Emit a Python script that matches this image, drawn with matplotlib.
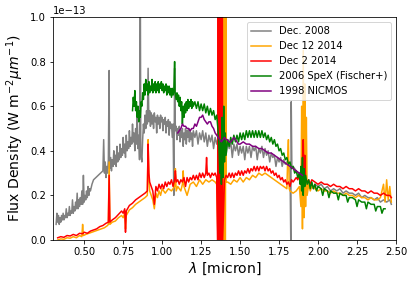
import numpy as np
import matplotlib
matplotlib.use("Agg")
import matplotlib.pyplot as plt

# flux values in units of 1e-13 W m^-2 um^-1

# Dec. 2008 (grey)
wl_2008 = [0.320, 0.325, 0.330, 0.335, 0.340, 0.345, 0.350, 0.355, 0.360, 0.365, 0.370, 0.375, 0.380, 0.385, 0.390, 0.395,
           0.400, 0.405, 0.410, 0.415, 0.420, 0.425, 0.430, 0.435, 0.440, 0.445, 0.450, 0.455, 0.460, 0.465, 0.470, 0.475,
           0.480, 0.485, 0.490, 0.495, 0.500, 0.505, 0.510, 0.515, 0.520, 0.525, 0.530, 0.535, 0.540, 0.550, 0.560,
           0.620, 0.625, 0.630, 0.635, 0.640, 0.645, 0.650, 0.655, 0.660, 0.663, 0.670, 0.675, 0.680, 0.685, 0.690, 0.695,
           0.700, 0.705, 0.710, 0.715, 0.720, 0.725, 0.730, 0.735, 0.740, 0.745, 0.750, 0.755, 0.760, 0.765, 0.770, 0.775,
           0.780, 0.785, 0.790, 0.795, 0.800, 0.805, 0.810, 0.815, 0.820, 0.825, 0.830, 0.835, 0.840, 0.845, 0.850, 0.855,
           0.860, 0.863, 0.870, 0.875, 0.880, 0.885, 0.890, 0.895, 0.900, 0.905, 0.910, 0.915, 0.920, 0.925, 0.930, 0.935,
           0.940, 0.945, 0.950, 0.955, 0.960, 0.965, 0.970, 0.975, 0.980, 0.985, 0.990, 0.995, 1.000, 1.005, 1.010, 1.015,
           1.020, 1.025, 1.030, 1.035, 1.040, 1.045, 1.050, 1.055, 1.060, 1.065, 1.070, 1.075, 1.080, 1.085, 1.090, 1.095,
           1.100, 1.105, 1.110, 1.115, 1.120, 1.125, 1.130, 1.135, 1.140, 1.145, 1.150, 1.155, 1.160, 1.165, 1.170, 1.175,
           1.180, 1.185, 1.190, 1.195, 1.200, 1.21, 1.22, 1.23, 1.24, 1.25, 1.26, 1.27, 1.28, 1.29, 1.30, 1.31,
           1.32, 1.33, 1.34, 1.35, 1.36, 1.37, 1.38, 1.39, 1.40, 1.41, 1.42, 1.43, 1.44, 1.45, 1.46, 1.47,
           1.48, 1.49, 1.50, 1.51, 1.52, 1.53, 1.54, 1.55, 1.56, 1.57, 1.58, 1.59, 1.60, 1.61, 1.62, 1.63,
           1.64, 1.65, 1.66, 1.67, 1.68, 1.69, 1.70, 1.71, 1.72, 1.73, 1.74, 1.75, 1.76, 1.77, 1.78, 1.79,
           1.80, 1.81, 1.82, 1.825, 1.828, 1.832, 1.84, 1.85, 1.86, 1.87, 1.88, 1.89, 1.90, 1.91, 1.92, 1.93,
           1.94, 1.95, 1.96, 1.97, 1.98, 2.00, 2.02, 2.04, 2.06, 2.08, 2.10, 2.12, 2.14, 2.16, 2.18, 2.20,
           2.22, 2.24, 2.26, 2.28, 2.30, 2.32, 2.34, 2.36, 2.38, 2.40, 2.42, 2.44, 2.46, 2.47]
fx_2008 = [0.07, 0.12, 0.08, 0.11, 0.07, 0.10, 0.08, 0.11, 0.09, 0.12, 0.09, 0.11, 0.10, 0.14, 0.10, 0.12,
           0.11, 0.15, 0.11, 0.13, 0.12, 0.18, 0.12, 0.15, 0.13, 0.17, 0.14, 0.21, 0.14, 0.18, 0.15, 0.19,
           0.16, 0.22, 0.16, 0.29, 0.17, 0.20, 0.18, 0.22, 0.19, 0.24, 0.20, 0.23, 0.22, 0.25, 0.27,
           0.31, 0.45, 0.30, 0.35, 0.28, 0.33, 0.30, 0.36, 0.76, 0.32, 0.37, 0.31, 0.36, 0.33, 0.40, 0.34,
           0.38, 0.33, 0.42, 0.35, 0.39, 0.36, 0.43, 0.37, 0.41, 0.38, 0.46, 0.39, 0.43, 0.37, 0.47, 0.40,
           0.44, 0.41, 0.49, 0.42, 0.46, 0.43, 0.52, 0.44, 0.48, 0.40, 0.50, 0.43, 0.55, 0.41, 0.47, 0.36,
           1.20, 0.39, 0.35, 0.45, 0.52, 0.48, 0.56, 0.50, 0.58, 0.52, 0.77, 0.53, 0.58, 0.51, 0.57, 0.52,
           0.56, 0.50, 0.57, 0.53, 0.55, 0.48, 0.56, 0.52, 0.55, 0.50, 0.56, 0.53, 0.55, 0.49, 0.54, 0.52,
           0.55, 0.48, 0.53, 0.51, 0.54, 0.47, 0.53, 0.50, 0.52, 0.46, 0.52, 0.20, 0.77, 0.49, 0.51, 0.45,
           0.50, 0.47, 0.51, 0.44, 0.49, 0.46, 0.50, 0.42, 0.48, 0.45, 0.50, 0.43, 0.49, 0.46, 0.50, 0.44,
           0.49, 0.45, 0.48, 0.42, 0.49, 0.46, 0.49, 0.43, 0.48, 0.45, 0.49, 0.44, 0.48, 0.42, 0.47, 0.44,
           0.47, 0.41, 0.46, 0.43, 0.46, 0.42, 0.45, 0.41, 0.45, 0.38, 0.44, 0.41, 0.44, 0.37, 0.43, 0.40,
           0.43, 0.38, 0.42, 0.39, 0.42, 0.36, 0.42, 0.39, 0.42, 0.37, 0.42, 0.40, 0.42, 0.36, 0.41, 0.39,
           0.42, 0.37, 0.41, 0.38, 0.40, 0.35, 0.39, 0.37, 0.38, 0.33, 0.37, 0.35, 0.37, 0.33, 0.36, 0.34,
           0.35, 0.33, 0.34, 0.00, 0.62, 0.33, 0.33, 0.32, 0.31, 0.30, 0.29, 0.27, 0.28, 0.25, 0.27, 0.24,
           0.26, 0.24, 0.25, 0.23, 0.25, 0.24, 0.25, 0.23, 0.24, 0.22, 0.23, 0.22, 0.23, 0.21, 0.22, 0.21,
           0.21, 0.20, 0.21, 0.19, 0.20, 0.19, 0.19, 0.18, 0.19, 0.17, 0.18, 0.17, 0.18, 0.16]

# Dec 12 2014 (orange)
wl_dec12 = [0.33, 0.35, 0.37, 0.39, 0.41, 0.43, 0.45, 0.47, 0.485, 0.49, 0.495, 0.51, 0.53, 0.55, 0.57, 0.59,
            0.61, 0.63, 0.65, 0.655, 0.66, 0.665, 0.68, 0.70, 0.72, 0.74, 0.75, 0.76, 0.765, 0.77, 0.79, 0.81,
            0.83, 0.85, 0.87, 0.89, 0.905, 0.91, 0.915, 0.92, 0.93, 0.94, 0.95, 0.96, 0.97, 0.98, 0.99, 1.00,
            1.02, 1.04, 1.06, 1.08, 1.085, 1.09, 1.10, 1.12, 1.13, 1.135, 1.14, 1.16, 1.18, 1.20, 1.22, 1.24,
            1.26, 1.28, 1.30, 1.32, 1.34, 1.350,
            1.358, 1.360, 1.364, 1.366, 1.370, 1.372, 1.376, 1.378, 1.382, 1.384, 1.388, 1.390, 1.394, 1.396,
            1.400, 1.402, 1.406, 1.408, 1.410,
            1.42, 1.44, 1.46, 1.48, 1.50, 1.52, 1.54, 1.56, 1.58, 1.60, 1.62, 1.64, 1.66, 1.68, 1.70, 1.72,
            1.74, 1.76, 1.78, 1.80, 1.805, 1.81, 1.815, 1.82, 1.84, 1.86, 1.88, 1.89, 1.895, 1.90, 1.905, 1.91,
            1.915, 1.92, 1.925, 1.93, 1.94, 1.95, 1.96, 1.98, 2.00, 2.02, 2.04, 2.06, 2.08, 2.10, 2.12, 2.14,
            2.16, 2.18, 2.20, 2.22, 2.24, 2.26, 2.28, 2.30, 2.32, 2.34, 2.36, 2.38, 2.40, 2.42, 2.43, 2.44,
            2.45, 2.46, 2.47]
fx_dec12 = [0.00, 0.005, 0.003, 0.01, 0.008, 0.015, 0.01, 0.02, 0.015, 0.07, 0.02, 0.025, 0.03, 0.035, 0.04, 0.045,
            0.05, 0.055, 0.065, 0.07, 0.35, 0.07, 0.08, 0.085, 0.10, 0.11, 0.10, 0.12, 0.05, 0.11, 0.135, 0.145,
            0.16, 0.17, 0.18, 0.19, 0.20, 0.45, 0.27, 0.22, 0.20, 0.18, 0.14, 0.21, 0.19, 0.22, 0.20, 0.23,
            0.21, 0.23, 0.22, 0.24, 0.32, 0.22, 0.24, 0.22, 0.25, 0.31, 0.24, 0.20, 0.25, 0.26, 0.24, 0.27,
            0.25, 0.27, 0.26, 0.27, 0.26, 0.25,
            0.0, 1.3, 1.3, 0.0, 0.0, 1.3, 1.3, 0.0, 0.0, 1.3, 1.3, 0.0, 0.0, 1.3,
            1.3, 0.0, 0.0, 1.3, 0.26,
            0.26, 0.25, 0.27, 0.26, 0.28, 0.26, 0.28, 0.27, 0.29, 0.28, 0.30, 0.29, 0.30, 0.29, 0.28, 0.27,
            0.26, 0.25, 0.24, 0.23, 0.36, 0.45, 0.23, 0.22, 0.21, 0.22, 0.24, 0.15, 0.60, 0.05, 0.85, 0.10,
            0.70, 0.15, 0.55, 0.20, 0.25, 0.22, 0.24, 0.23, 0.22, 0.23, 0.22, 0.22, 0.21, 0.22, 0.21, 0.21,
            0.20, 0.21, 0.20, 0.20, 0.19, 0.20, 0.19, 0.19, 0.18, 0.19, 0.18, 0.18, 0.19, 0.25, 0.17, 0.27,
            0.18, 0.24, 0.17]

# Dec 2 2014 (red)
wl_dec2 = [0.33, 0.35, 0.37, 0.39, 0.41, 0.43, 0.45, 0.47, 0.49, 0.50, 0.52, 0.54, 0.56, 0.58, 0.60, 0.62,
           0.64, 0.655, 0.660, 0.665, 0.68, 0.70, 0.72, 0.74, 0.75, 0.76, 0.765, 0.77, 0.79, 0.81, 0.83, 0.85,
           0.87, 0.89, 0.905, 0.910, 0.915, 0.92, 0.93, 0.94, 0.95, 0.96, 0.97, 0.98, 0.99, 1.00, 1.01, 1.02,
           1.03, 1.04, 1.05, 1.06, 1.07, 1.08, 1.085, 1.09, 1.10, 1.11, 1.12, 1.13, 1.14, 1.15, 1.16, 1.17,
           1.18, 1.19, 1.20, 1.21, 1.22, 1.23, 1.24, 1.25, 1.26, 1.27, 1.28, 1.285, 1.29, 1.30, 1.31, 1.32,
           1.33, 1.34, 1.35,
           1.356, 1.358, 1.362, 1.364, 1.368, 1.370, 1.374, 1.376, 1.380, 1.382, 1.386, 1.388,
           1.40, 1.41, 1.42, 1.43, 1.44, 1.45, 1.46, 1.47, 1.48, 1.49, 1.50, 1.51, 1.52, 1.53, 1.54, 1.55,
           1.56, 1.57, 1.58, 1.59, 1.60, 1.61, 1.62, 1.63, 1.64, 1.65, 1.66, 1.67, 1.68, 1.69, 1.70, 1.71,
           1.72, 1.73, 1.74, 1.75, 1.76, 1.77, 1.78, 1.79, 1.80, 1.81, 1.82, 1.83, 1.84, 1.85, 1.86, 1.87,
           1.88, 1.89, 1.90, 1.905, 1.91, 1.915, 1.92, 1.93, 1.94, 1.95, 1.96, 1.98, 2.00, 2.02, 2.04, 2.06,
           2.08, 2.10, 2.12, 2.14, 2.16, 2.18, 2.20, 2.22, 2.24, 2.26, 2.28, 2.30, 2.32, 2.34, 2.36, 2.38,
           2.40, 2.42, 2.44, 2.46, 2.47]
fx_dec2 = [0.01, 0.015, 0.012, 0.02, 0.018, 0.025, 0.02, 0.03, 0.028, 0.035, 0.03, 0.04, 0.045, 0.05, 0.06, 0.065,
           0.075, 0.08, 0.29, 0.08, 0.09, 0.10, 0.115, 0.13, 0.12, 0.14, 0.035, 0.13, 0.155, 0.165, 0.18, 0.19,
           0.20, 0.21, 0.22, 0.43, 0.30, 0.26, 0.24, 0.22, 0.16, 0.24, 0.22, 0.25, 0.23, 0.25, 0.23, 0.26,
           0.24, 0.26, 0.25, 0.27, 0.24, 0.27, 0.31, 0.26, 0.27, 0.25, 0.27, 0.26, 0.28, 0.24, 0.28, 0.26,
           0.28, 0.27, 0.29, 0.27, 0.29, 0.27, 0.30, 0.28, 0.30, 0.28, 0.30, 0.37, 0.29, 0.30, 0.28, 0.30,
           0.29, 0.30, 0.28,
           0.0, 1.3, 1.3, 0.0, 0.0, 1.3, 1.3, 0.0, 0.0, 1.3, 1.3, 0.0,
           0.27, 0.29, 0.28, 0.30, 0.28, 0.30, 0.28, 0.30, 0.29, 0.31, 0.29, 0.31, 0.29, 0.31, 0.30, 0.32,
           0.30, 0.32, 0.31, 0.33, 0.31, 0.33, 0.31, 0.33, 0.32, 0.33, 0.31, 0.33, 0.31, 0.32, 0.30, 0.31,
           0.29, 0.30, 0.28, 0.29, 0.27, 0.28, 0.26, 0.27, 0.25, 0.26, 0.24, 0.27, 0.26, 0.27, 0.28, 0.27,
           0.29, 0.27, 0.35, 0.45, 0.26, 0.38, 0.27, 0.26, 0.27, 0.25, 0.27, 0.26, 0.25, 0.26, 0.25, 0.25,
           0.24, 0.25, 0.24, 0.24, 0.23, 0.24, 0.23, 0.23, 0.22, 0.23, 0.22, 0.22, 0.21, 0.22, 0.21, 0.21,
           0.20, 0.21, 0.20, 0.20, 0.19]

# 2006 SpeX (green)
wl_spex = [0.810, 0.815, 0.820, 0.825, 0.830, 0.835, 0.840, 0.845, 0.850, 0.855, 0.860, 0.865, 0.870, 0.875, 0.880, 0.885,
           0.890, 0.895, 0.900, 0.905, 0.910, 0.915, 0.920, 0.925, 0.930, 0.935, 0.940, 0.945, 0.950, 0.955, 0.960, 0.965,
           0.970, 0.975, 0.980, 0.985, 0.990, 0.995, 1.000, 1.005, 1.010, 1.015, 1.020, 1.025, 1.030, 1.035, 1.040, 1.045,
           1.050, 1.055, 1.060, 1.065, 1.070, 1.075, 1.080, 1.083, 1.090, 1.095, 1.100, 1.105, 1.110, 1.115, 1.120, 1.125,
           1.130, 1.135, 1.140, 1.145, 1.150, 1.155, 1.160, 1.165, 1.170, 1.175, 1.180, 1.185, 1.190, 1.195, 1.200, 1.21,
           1.22, 1.23, 1.24, 1.25, 1.26, 1.27, 1.28, 1.29, 1.30, 1.31, 1.32, 1.33, 1.34, 1.35, 1.36, 1.365,
           1.37, 1.375, 1.38, 1.385, 1.39, 1.395, 1.40, 1.405, 1.41, 1.42, 1.43, 1.44, 1.45, 1.46, 1.47, 1.48,
           1.49, 1.50, 1.51, 1.52, 1.53, 1.54, 1.55, 1.56, 1.57, 1.58, 1.59, 1.60, 1.61, 1.62, 1.63, 1.64,
           1.65, 1.66, 1.67, 1.68, 1.69, 1.70, 1.71, 1.72, 1.73, 1.74, 1.75, 1.76, 1.77, 1.78, 1.79, 1.80,
           1.81, 1.82, 1.83, 1.84, 1.85, 1.86, 1.87, 1.88, 1.885, 1.89, 1.895, 1.90, 1.905, 1.91, 1.915, 1.92,
           1.93, 1.94, 1.95, 1.96, 1.97, 1.98, 1.99, 2.00, 2.02, 2.03, 2.04, 2.06, 2.07, 2.08, 2.10, 2.12,
           2.13, 2.14, 2.16, 2.18, 2.19, 2.20, 2.22, 2.24, 2.25, 2.26, 2.28, 2.30, 2.31, 2.32, 2.34, 2.36,
           2.37, 2.38, 2.40, 2.41, 2.42, 2.43]
fx_spex = [0.58, 0.64, 0.60, 0.67, 0.58, 0.62, 0.55, 0.60, 0.53, 0.58, 0.55, 0.62, 0.60, 0.66, 0.63, 0.70,
           0.65, 0.72, 0.67, 0.70, 0.65, 0.71, 0.66, 0.69, 0.67, 0.72, 0.66, 0.70, 0.67, 0.71, 0.66, 0.70,
           0.67, 0.71, 0.66, 0.70, 0.68, 0.71, 0.67, 0.70, 0.66, 0.69, 0.67, 0.70, 0.65, 0.69, 0.66, 0.69,
           0.65, 0.68, 0.64, 0.68, 0.65, 0.67, 0.80, 0.66, 0.63, 0.66, 0.62, 0.65, 0.60, 0.64, 0.58, 0.62,
           0.52, 0.60, 0.55, 0.61, 0.57, 0.62, 0.58, 0.63, 0.59, 0.62, 0.60, 0.63, 0.59, 0.62, 0.60, 0.62,
           0.59, 0.62, 0.58, 0.61, 0.58, 0.61, 0.57, 0.60, 0.56, 0.59, 0.56, 0.58, 0.54, 0.56, 0.48, 0.40,
           0.30, 0.45, 0.25, 0.55, 0.28, 0.60, 0.35, 0.48, 0.38, 0.45, 0.42, 0.46, 0.43, 0.47, 0.44, 0.47,
           0.44, 0.48, 0.45, 0.48, 0.45, 0.49, 0.46, 0.49, 0.46, 0.49, 0.46, 0.49, 0.46, 0.49, 0.46, 0.49,
           0.46, 0.48, 0.45, 0.47, 0.44, 0.46, 0.43, 0.45, 0.42, 0.43, 0.40, 0.41, 0.38, 0.39, 0.36, 0.37,
           0.34, 0.35, 0.32, 0.33, 0.30, 0.31, 0.28, 0.30, 0.25, 0.33, 0.22, 0.37, 0.20, 0.32, 0.24, 0.29,
           0.25, 0.27, 0.23, 0.26, 0.23, 0.25, 0.22, 0.24, 0.23, 0.20, 0.23, 0.22, 0.19, 0.22, 0.21, 0.21,
           0.18, 0.21, 0.20, 0.20, 0.17, 0.19, 0.19, 0.18, 0.15, 0.18, 0.17, 0.17, 0.14, 0.17, 0.16, 0.16,
           0.13, 0.15, 0.15, 0.12, 0.14, 0.14]

# 1998 NICMOS (purple)
wl_nicmos = [1.10, 1.11, 1.12, 1.13, 1.14, 1.15, 1.16, 1.17, 1.18, 1.19, 1.20, 1.21, 1.22, 1.23, 1.24, 1.25,
             1.26, 1.27, 1.28, 1.29, 1.30, 1.31, 1.32, 1.33, 1.34, 1.35, 1.36, 1.37, 1.38, 1.39, 1.40, 1.41,
             1.42, 1.43, 1.44, 1.45, 1.46, 1.47, 1.48, 1.49, 1.50, 1.52, 1.54, 1.56, 1.58, 1.60, 1.62, 1.64,
             1.66, 1.68, 1.70, 1.72, 1.74, 1.76, 1.78, 1.80, 1.82, 1.84, 1.86, 1.88, 1.90]
fx_nicmos = [0.48, 0.49, 0.50, 0.52, 0.51, 0.51, 0.50, 0.50, 0.49, 0.50, 0.50, 0.52, 0.51, 0.53, 0.55, 0.55,
             0.56, 0.54, 0.53, 0.52, 0.53, 0.53, 0.51, 0.50, 0.48, 0.47, 0.46, 0.45, 0.44, 0.45, 0.46, 0.45,
             0.45, 0.44, 0.44, 0.45, 0.46, 0.45, 0.44, 0.43, 0.43, 0.44, 0.43, 0.43, 0.42, 0.42, 0.41, 0.41,
             0.40, 0.39, 0.39, 0.38, 0.37, 0.36, 0.35, 0.34, 0.33, 0.32, 0.31, 0.30, 0.29]

escala = 1e-13

fig = plt.figure(figsize=(415 / 72, 283 / 72), dpi=72)
ax = fig.add_subplot(111)
fig.subplots_adjust(left=53 / 415, right=396 / 415, bottom=43 / 283, top=266 / 283)

ax.plot(wl_2008, np.array(fx_2008) * escala, color="gray", label="Dec. 2008")
ax.plot(wl_dec12, np.array(fx_dec12) * escala, color="orange", label="Dec 12 2014")
ax.plot(wl_dec2, np.array(fx_dec2) * escala, color="red", label="Dec 2 2014")
ax.plot(wl_spex, np.array(fx_spex) * escala, color="green", label="2006 SpeX (Fischer+)")
ax.plot(wl_nicmos, np.array(fx_nicmos) * escala, color="purple", label="1998 NICMOS")

ax.set_xlim(0.3, 2.5)
ax.set_ylim(0, 1e-13)
ax.set_xlabel(r"$\lambda$ [micron]", fontsize=14)
ax.set_ylabel(r"Flux Density (W m$^{-2} \mu m^{-1}$)", fontsize=14)
ax.legend(loc="upper right")

fig.savefig("out.png", dpi=72)
